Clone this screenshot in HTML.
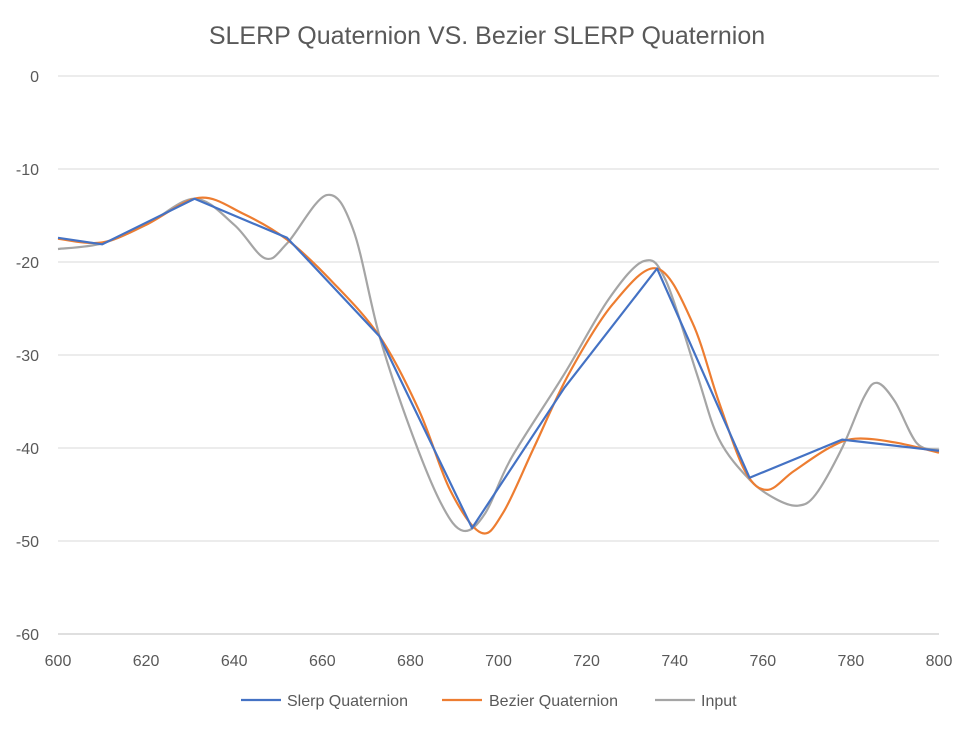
<!DOCTYPE html>
<html><head><meta charset="utf-8"><style>
body{margin:0;background:#fff;font-family:"Liberation Sans",sans-serif}
</style></head><body>
<svg id="chart" width="974" height="731" xmlns="http://www.w3.org/2000/svg">
<rect width="974" height="731" fill="#fff"/>
<text x="487" y="44" text-anchor="middle" font-size="25" fill="#595959">SLERP Quaternion VS. Bezier SLERP Quaternion</text>
<g id="grid"></g><g id="series"></g>
<g font-size="16" fill="#595959">
<line x1="241" y1="700" x2="281" y2="700" stroke="#4472C4" stroke-width="2.2"/>
<text x="287" y="706">Slerp Quaternion</text>
<line x1="442" y1="700" x2="482" y2="700" stroke="#ED7D31" stroke-width="2.2"/>
<text x="489" y="706">Bezier Quaternion</text>
<line x1="655" y1="700" x2="695" y2="700" stroke="#A5A5A5" stroke-width="2.2"/>
<text x="701" y="706">Input</text>
</g>
</svg>
<script>
const xTicks=[600,620,640,660,680,700,720,740,760,780,800];
const yTicks=[0,-10,-20,-30,-40,-50,-60];
const slerpX=[600,610,631,652,673,694,715,736,757,778,800];
const slerpY=[-17.4,-18.1,-13.2,-17.4,-28,-48.6,-33.5,-20.7,-43.2,-39.1,-40.3];
const bezX=[600,610,620,632,642,652,662,673,682,689,696,701,708,716,726,736,744,750,756,761,767,775,781,790,800];
const bezY=[-17.5,-17.9,-16,-13.1,-14.8,-17.6,-22,-28,-36,-44.5,-49.1,-47,-40,-32,-24.5,-20.7,-26.5,-35,-42.5,-44.5,-42.5,-40,-39,-39.4,-40.5];
const inX=[600,610,620,631,640,647,652,661,667,673,680,687,692,697,703,715,725,733,738,745,750,757,763,768,772,778,783,786,790,795,800];
const inY=[-18.6,-18,-16,-13.2,-16,-19.6,-18,-12.8,-16.5,-28,-38,-46,-48.9,-47,-41,-32,-24,-19.9,-22,-32,-39,-43.4,-45.5,-46.2,-45,-40,-34.5,-33,-35,-39.5,-40.2];
const NS="http://www.w3.org/2000/svg";
const X=v=>58+(v-600)*(939-58)/200;
const Y=v=>76+(-v)*(634-76)/60;
const grid=document.getElementById('grid'),ser=document.getElementById('series');
yTicks.forEach(t=>{
 const l=document.createElementNS(NS,'line');
 
 
 l.setAttribute('x1',58);l.setAttribute('x2',939);l.setAttribute('y1',Y(t));l.setAttribute('y2',Y(t));
 l.setAttribute('stroke',t===-60?'#bfbfbf':'#d9d9d9');l.setAttribute('stroke-width',1);
 grid.appendChild(l);
 const tx=document.createElementNS(NS,'text');
 
 
 tx.setAttribute('x',39);tx.setAttribute('y',Y(t)+6);tx.setAttribute('text-anchor','end');
 tx.setAttribute('font-size',16);tx.setAttribute('fill','#595959');tx.textContent=t;
 grid.appendChild(tx);
});
xTicks.forEach(t=>{
 const tx=document.createElementNS(NS,'text');
 
 
 tx.setAttribute('x',X(t));tx.setAttribute('y',666);tx.setAttribute('text-anchor','middle');
 tx.setAttribute('font-size',16);tx.setAttribute('fill','#595959');tx.textContent=t;
 grid.appendChild(tx);
});
function smooth(xs,ys){
 const p=xs.map((x,i)=>[X(x),Y(ys[i])]);let d='M'+p[0][0]+','+p[0][1];
 for(let i=0;i<p.length-1;i++){
  const p0=p[i-1]||p[i],p1=p[i],p2=p[i+1],p3=p[i+2]||p2;
  d+=' C'+(p1[0]+(p2[0]-p0[0])/6)+','+(p1[1]+(p2[1]-p0[1])/6)+' '+(p2[0]-(p3[0]-p1[0])/6)+','+(p2[1]-(p3[1]-p1[1])/6)+' '+p2[0]+','+p2[1];
 }return d;
}
function linear(xs,ys){return xs.map((x,i)=>(i?'L':'M')+X(x)+','+Y(ys[i])).join(' ');}
function add(d,c,name){
 const p=document.createElementNS(NS,'path');
 
 
 p.setAttribute('d',d);p.setAttribute('fill','none');p.setAttribute('stroke',c);p.setAttribute('stroke-width',2.2);p.setAttribute('stroke-linejoin','round');
 ser.appendChild(p);
}
add(smooth(inX,inY),'#A5A5A5','input-line');
add(smooth(bezX,bezY),'#ED7D31','bezier-line');
add(linear(slerpX,slerpY),'#4472C4','slerp-line');
</script>
</body></html>
